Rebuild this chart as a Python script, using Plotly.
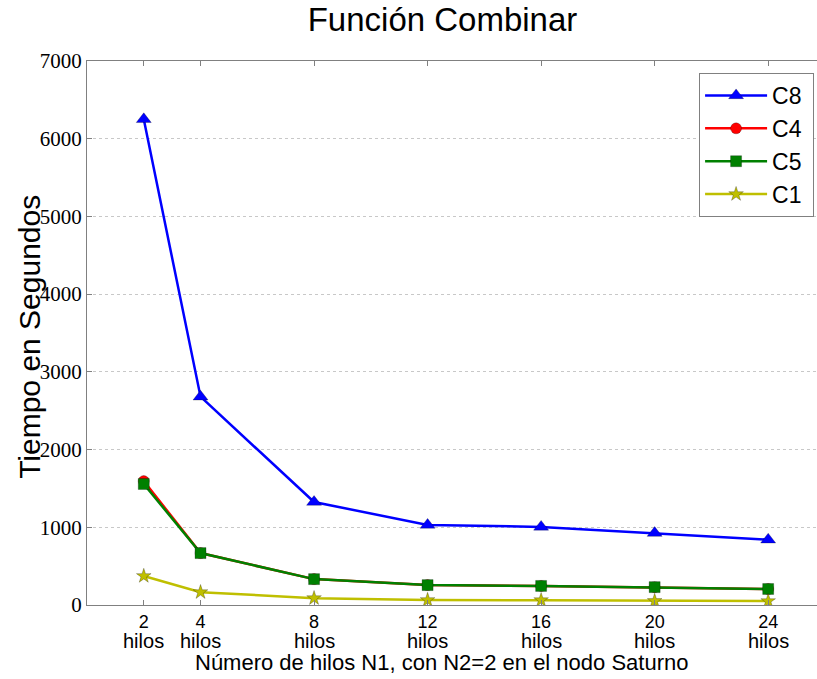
import plotly.graph_objects as go

# Número de hilos N1
hilos = [2, 4, 8, 12, 16, 20, 24]
numeros = [str(h) for h in hilos]
unidad = "hilos"

# Tiempos (segundos) por configuración
c8 = [6250, 2680, 1325, 1030, 1005, 925, 840]
c4 = [1595, 668, 333, 256, 245, 230, 206]
c5 = [1557, 668, 333, 256, 245, 230, 206]
c1 = [373, 165, 88, 64, 62, 52, 50]

series = [
    ("C8", c8, "#0000ff", "triangle-up", 13),
    ("C4", c4, "#ff0000", "circle", 11),
    ("C5", c5, "#008000", "square", 11),
    ("C1", c1, "#bfbf00", "star", 11),
]

fig = go.Figure()
for nombre, valores, color, simbolo, tam in series:
    fig.add_trace(go.Scatter(
        x=hilos, y=valores, name=nombre + "\u00a0", mode="lines+markers",
        line=dict(color=color, width=2.5),
        marker=dict(symbol=simbolo, size=tam, color=color,
                    line=dict(color="rgba(0,0,0,0.5)", width=0.5)),
    ))

sans = "Liberation Sans, Arial, sans-serif"
serif = "Liberation Serif, DejaVu Serif, serif"

# segunda línea de cada etiqueta del eje x
anotaciones = [
    dict(text=unidad, xref="x", yref="paper", x=h, y=-0.067,
         xanchor="center", yanchor="middle", showarrow=False,
         font=dict(family=sans, size=20, color="black"))
    for h in hilos
]
anotaciones.append(dict(
    text="Número de hilos N1, con N2=2 en el nodo Saturno",
    xref="paper", yref="paper", x=0.486, y=-0.105,
    xanchor="center", yanchor="middle", showarrow=False,
    font=dict(family=sans, size=22, color="black"),
))
anotaciones.append(dict(
    text="Tiempo en Segundos", textangle=-90,
    xref="paper", yref="paper", x=-0.078, y=0.493,
    xanchor="center", yanchor="middle", showarrow=False,
    font=dict(family=sans, size=30, color="black"),
))

fig.update_layout(
    width=817, height=679,
    margin=dict(l=87, r=0, t=61, b=74, autoexpand=False),
    paper_bgcolor="white", plot_bgcolor="white",
    title=dict(text="Función Combinar", x=0.487, xref="paper", xanchor="center",
               y=0.971, yanchor="middle",
               font=dict(family=sans, size=33, color="black")),
    font=dict(family=sans, color="black"),
    xaxis=dict(
        range=[0, 25.72], tickmode="array", tickvals=hilos, ticktext=numeros,
        tickfont=dict(family=sans, size=18, color="black"),
        ticks="inside", ticklen=5, tickcolor="#808080",
        showline=True, linecolor="#808080", linewidth=1, mirror="ticks",
        showgrid=False, zeroline=False, automargin=False,
    ),
    yaxis=dict(
        range=[0, 7000], tickmode="array", tickvals=list(range(0, 7001, 1000)),
        tickfont=dict(family=serif, size=21, color="black"),
        ticks="inside", ticklen=5, tickcolor="#808080",
        showline=True, linecolor="#808080", linewidth=1,
        showgrid=True, gridcolor="#c8c8c8", griddash="dot", gridwidth=1,
        zeroline=False, automargin=False,
    ),
    legend=dict(
        x=0.996, y=0.978, xanchor="right", yanchor="top",
        bgcolor="white", bordercolor="#808080", borderwidth=1,
        font=dict(family=sans, size=23, color="black"),
        itemwidth=62,
    ),
    annotations=anotaciones,
)

fig.write_html("out.html")
